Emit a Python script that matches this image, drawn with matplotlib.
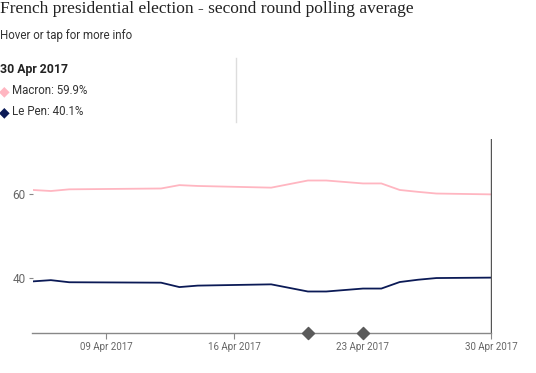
import matplotlib
matplotlib.use("Agg")
import matplotlib.pyplot as plt
import matplotlib.dates as mdates
import pandas as pd

# polling average, vertices
dates = pd.to_datetime([
    "2017-04-05", "2017-04-06", "2017-04-07", "2017-04-12", "2017-04-13",
    "2017-04-14", "2017-04-18", "2017-04-20", "2017-04-21", "2017-04-23",
    "2017-04-24", "2017-04-25", "2017-04-26", "2017-04-27", "2017-04-30",
])
macron = [60.95, 60.7, 61.1, 61.3, 62.1, 61.9, 61.5, 63.2, 63.2, 62.5,
          62.5, 60.95, 60.5, 60.1, 59.9]
le_pen = [39.2, 39.5, 39.0, 38.9, 37.85, 38.2, 38.5, 36.8, 36.8, 37.5,
          37.5, 39.05, 39.6, 40.0, 40.1]

event_dates = pd.to_datetime(["2017-04-20", "2017-04-23"])
tick_dates = pd.to_datetime(["2017-04-09", "2017-04-16", "2017-04-23", "2017-04-30"])
y_ticks = [40, 60]

MACRON_C = "#ffb6c1"
LEPEN_C = "#0b1a56"
GREY = "#666666"
SANS = "Roboto"

fig = plt.figure(figsize=(5.36, 3.73), dpi=100)
ax = fig.add_axes([32.5 / 536, 1 - 332.7 / 373, (491.5 - 32.5) / 536, (332.7 - 139.3) / 373])

ax.plot(dates, macron, color=MACRON_C, lw=1.3)
ax.plot(dates, le_pen, color=LEPEN_C, lw=1.3)

ax.set_xlim(pd.Timestamp("2017-04-05"), pd.Timestamp("2017-04-30"))
ax.set_ylim(27, 73)

# hover line at the selected date
ax.axvline(pd.Timestamp("2017-04-30"), color="#555555", lw=1)

# event markers sitting on the x axis
ax.scatter(event_dates, [27, 27], marker="D", s=38, color="#5a5a5a", zorder=5, clip_on=False)

for s in ["top", "right", "left"]:
    ax.spines[s].set_visible(False)
ax.spines["bottom"].set_color("#888888")
ax.spines["bottom"].set_linewidth(1)

ax.set_xticks(tick_dates)
ax.xaxis.set_major_formatter(mdates.DateFormatter("%d %b %Y"))
ax.set_yticks(y_ticks)
ax.tick_params(axis="x", length=4, color="#888888", labelcolor=GREY, labelsize=7, pad=3)
ax.tick_params(axis="y", length=3, color="#888888", labelcolor=GREY, labelsize=8.5, pad=2)
for lab in ax.get_xticklabels() + ax.get_yticklabels():
    lab.set_family(SANS)

# header text
fig.text(0.0, 1 - 13 / 373, "French presidential election - second round polling average",
         family="Liberation Serif", fontsize=12.5, color="#222222", va="baseline")
fig.text(0.0, 1 - 39 / 373, "Hover or tap for more info",
         family=SANS, fontsize=8.3, color="#333333", va="baseline")
fig.text(0.0, 1 - 73 / 373, "30 Apr 2017",
         family=SANS, fontsize=8.8, weight="bold", color="#222222", va="baseline")
fig.text(-1 / 536, 1 - 95 / 373, "\u25c6", family="DejaVu Sans", fontsize=10, color=MACRON_C, va="baseline")
fig.text(12 / 536, 1 - 94 / 373, "Macron: 59.9%", family=SANS, fontsize=8.3, color="#333333", va="baseline")
fig.text(-1 / 536, 1 - 116 / 373, "\u25c6", family="DejaVu Sans", fontsize=10, color=LEPEN_C, va="baseline")
fig.text(12 / 536, 1 - 115 / 373, "Le Pen: 40.1%", family=SANS, fontsize=8.3, color="#333333", va="baseline")

# separator in the info panel
fig.add_artist(plt.Line2D([236 / 536, 236 / 536], [1 - 58 / 373, 1 - 122 / 373],
                          color="#dddddd", lw=1))

fig.savefig("out.png", dpi=100)
